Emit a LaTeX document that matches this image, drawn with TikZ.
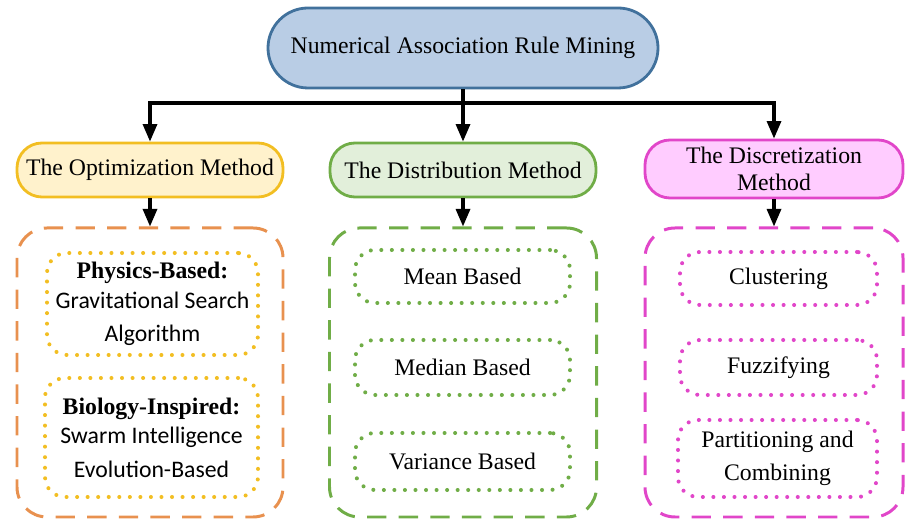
\documentclass[tikz,border=0pt]{standalone}
\usepackage{fontspec}
\setmainfont{Liberation Serif}
\newfontfamily\calfont{Carlito}
\usetikzlibrary{arrows.meta}

\definecolor{rootfill}{HTML}{B9CDE5}
\definecolor{rootline}{HTML}{41719C}
\definecolor{optfill}{HTML}{FFF2CC}
\definecolor{optline}{HTML}{F2BE22}
\definecolor{optdash}{HTML}{E8914F}
\definecolor{distfill}{HTML}{E2EFDA}
\definecolor{distline}{HTML}{70AD47}
\definecolor{discfill}{HTML}{FFCCFF}
\definecolor{discline}{HTML}{E146C9}

\tikzset{
  topbox/.style={draw=rootline, fill=rootfill, line width=1.6pt, rounded corners=0.8cm,
    minimum width=7.8cm, minimum height=1.6cm},
  methodbox/.style={line width=1.6pt, rounded corners=0.5cm, minimum width=5.32cm,
    minimum height=1.08cm, align=center, font=\fontsize{13.5}{15.5}\selectfont},
  groupbox/.style={line width=1.7pt, rounded corners=0.6cm, dash pattern=on 11pt off 7pt},
  itembox/.style={line width=2.3pt, rounded corners=0.4cm, dash pattern=on 0pt off 6pt,
    line cap=round, align=center},
  conn/.style={line width=1.8pt},
  arrowline/.style={conn, -{Triangle[width=8pt,length=10pt]}},
}

\begin{document}
\begin{tikzpicture}[every node/.append style={font=\fontsize{13.5}{17}\selectfont}]
\useasboundingbox (0,0) rectangle (18.100,10.400);

% top level
\node[topbox] (root) at (9.260,9.440) {Numerical Association Rule Mining};
\coordinate (bar) at (9.260,8.340);

% methods
\node[methodbox, draw=optline, fill=optfill] (opt) at (3.000,7.000) {The Optimization Method};
\node[methodbox, draw=distline, fill=distfill] (dist) at (9.260,7.000) {The Distribution Method};
\node[methodbox, draw=discline, fill=discfill, minimum width=5.160cm, minimum height=1.160cm]
  (disc) at (15.480,7.020) {The Discretization\\Method};

\draw[conn] (root.south) -- (bar);
\draw[arrowline] (bar) -| (opt.north);
\draw[arrowline] (bar) -- (dist.north);
\draw[arrowline] (bar) -| (disc.north);

% groups
\node[groupbox, draw=optdash, minimum width=5.320cm, minimum height=5.780cm] (optgroup) at (3.000,2.950) {};
\node[groupbox, draw=distline, minimum width=5.340cm, minimum height=5.780cm] (distgroup) at (9.260,2.950) {};
\node[groupbox, draw=discline, minimum width=5.160cm, minimum height=5.780cm] (discgroup) at (15.480,2.950) {};

\draw[arrowline] (opt.south) -- (optgroup.north);
\draw[arrowline] (dist.south) -- (distgroup.north);
\draw[arrowline] (disc.south) -- (discgroup.north);

% optimization items
\node[itembox, draw=optline, minimum width=4.220cm, minimum height=2.040cm] (physics) at (3.050,4.320)
  {\textbf{Physics-Based:}\\{\calfont Gravitational Search}\\[2pt]{\calfont Algorithm}};
\node[itembox, draw=optline, minimum width=4.260cm, minimum height=2.380cm] (biology) at (3.030,1.650)
  {\textbf{Biology-Inspired:}\\{\calfont Swarm Intelligence}\\[2pt]{\calfont Evolution-Based}};

% distribution items
\node[itembox, draw=distline, minimum width=4.300cm, minimum height=1.060cm] (mean) at (9.250,4.870) {Mean Based};
\node[itembox, draw=distline, minimum width=4.300cm, minimum height=1.100cm] (median) at (9.250,3.050) {Median Based};
\node[itembox, draw=distline, minimum width=4.300cm, minimum height=1.140cm] (variance) at (9.250,1.170) {Variance Based};

% discretization items
\node[itembox, draw=discline, minimum width=3.940cm, minimum height=1.060cm] (cluster) at (15.570,4.830) {Clustering};
\node[itembox, draw=discline, minimum width=3.940cm, minimum height=1.100cm] (fuzzy) at (15.570,3.050) {Fuzzifying};
\node[itembox, draw=discline, minimum width=3.980cm, minimum height=1.540cm] (partition) at (15.550,1.230)
  {Partitioning and\\[2pt]Combining};
\end{tikzpicture}
\end{document}
